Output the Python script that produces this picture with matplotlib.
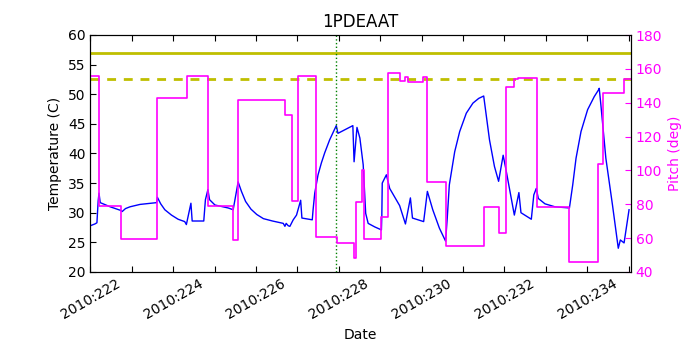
import matplotlib
matplotlib.use("Agg")
import matplotlib.pyplot as plt
from matplotlib.ticker import MultipleLocator, FuncFormatter

# temperature trace (day of year 2010, deg C)
temp_day = [222.00, 222.11, 222.16, 222.19, 222.21, 222.24, 222.48, 222.73, 222.77,
            222.85, 222.96, 223.20, 223.60, 223.62, 223.70, 223.80, 223.96, 224.12,
            224.28, 224.32, 224.43, 224.46, 224.74, 224.78, 224.84, 224.88, 225.01,
            225.33, 225.45, 225.57, 225.65, 225.75, 225.88, 226.02, 226.18, 226.40,
            226.66, 226.70, 226.73, 226.78, 226.82, 226.90, 226.98, 227.08, 227.11,
            227.36, 227.38, 227.42, 227.50, 227.58, 227.66, 227.78, 227.86, 227.94,
            227.98, 228.34, 228.37, 228.44, 228.51, 228.59, 228.65, 228.71, 228.87,
            229.03, 229.04, 229.05, 229.15, 229.23, 229.47, 229.61, 229.73, 229.78,
            230.05, 230.14, 230.27, 230.43, 230.58, 230.62, 230.67, 230.80, 230.92,
            231.08, 231.24, 231.38, 231.50, 231.64, 231.76, 231.86, 231.97, 232.04,
            232.24, 232.35, 232.40, 232.65, 232.71, 232.77, 232.82, 232.98, 233.22,
            233.57, 233.65, 233.73, 233.85, 234.01, 234.17, 234.27, 234.29, 234.33,
            234.45, 234.61, 234.75, 234.80, 234.89, 235.01]
temp_val = [27.8, 28.1, 28.3, 32.0, 33.3, 31.7, 31.0, 30.4, 30.2,
            30.7, 31.0, 31.4, 31.7, 32.6, 31.5, 30.5, 29.6, 28.9,
            28.5, 28.0, 31.6, 28.6, 28.6, 32.2, 33.9, 32.2, 31.3,
            30.8, 30.5, 35.2, 33.6, 31.9, 30.6, 29.7, 29.0, 28.6,
            28.2, 27.7, 28.2, 27.8, 27.7, 28.8, 29.6, 32.1, 29.1,
            28.8, 30.5, 33.3, 36.4, 38.4, 40.1, 42.3, 43.5, 44.7,
            43.4, 44.7, 38.6, 44.4, 42.6, 38.1, 29.9, 28.2, 27.6,
            27.1, 29.5, 35.0, 36.4, 34.1, 31.2, 28.1, 32.5, 29.1,
            28.5, 33.6, 30.5, 27.4, 25.2, 29.1, 34.7, 40.3, 43.7,
            46.8, 48.5, 49.3, 49.7, 42.3, 37.8, 35.3, 39.7, 37.2,
            29.6, 33.4, 30.0, 28.9, 33.0, 34.1, 32.4, 31.5, 31.0,
            30.8, 34.7, 39.2, 43.7, 47.4, 49.6, 50.7, 51.0, 48.2,
            39.2, 31.3, 24.0, 25.4, 24.9, 30.5]

# pitch steps (value holds from each day until the next)
pitch_day = [222.00, 222.21, 222.73, 223.61, 224.33, 224.84, 225.45, 225.57, 226.70,
             226.86, 227.01, 227.45, 227.95, 228.37, 228.42, 228.56, 228.62, 229.03,
             229.18, 229.47, 229.61, 229.67, 230.04, 230.14, 230.58, 231.50, 231.86,
             232.04, 232.24, 232.32, 232.78, 233.55, 234.27, 234.38, 234.89, 235.05]
pitch_val = [156.0, 79.0, 59.7, 142.8, 156.0, 79.0, 59.0, 141.6, 132.7,
             82.0, 156.0, 60.7, 57.0, 48.0, 81.5, 100.3, 59.5, 72.3,
             157.6, 153.0, 155.0, 152.0, 155.0, 93.4, 55.5, 78.2, 63.0,
             149.3, 154.0, 154.4, 78.4, 46.1, 103.6, 145.5, 154.0, 154.0]

planning_limit = 57.0
caution_limit = 52.5
now_day = 227.94

fig = plt.figure(figsize=(7, 3.5), dpi=100)
ax1 = fig.add_axes([0.129, 0.223, 0.772, 0.677])
ax1.plot(temp_day, temp_val, color='b', lw=1)
ax1.axhline(planning_limit, color='y', lw=2)
ax1.axhline(caution_limit, color='y', lw=2, linestyle='--', dashes=(3.2, 2.8))
ax1.axvline(now_day, color='g', lw=1, linestyle=':')
ax1.set_xlim(222.0, 235.05)
ax1.set_ylim(20, 60)
ax1.set_ylabel('Temperature (C)', fontsize=10)
ax1.set_xlabel('Date', fontsize=10)
ax1.set_title('1PDEAAT', fontsize=12)
ax1.xaxis.set_major_locator(MultipleLocator(1))
ax1.xaxis.set_major_formatter(FuncFormatter(
    lambda x, pos: '2010:%03d' % round(x) if round(x) % 2 == 0 else ''))
ax1.tick_params(axis='x', direction='in', top=True, length=4, labelsize=10,
                labelrotation=30)
ax1.tick_params(axis='y', direction='in', length=4, labelsize=10)
for lab in ax1.get_xticklabels():
    lab.set_ha('center')

ax2 = ax1.twinx()
ax2.plot(pitch_day, pitch_val, color='#ff00ff', lw=1.2, drawstyle='steps-post')
ax2.set_xlim(222.0, 235.05)
ax2.set_ylim(40, 180)
ax2.set_ylabel('Pitch (deg)', color='#ff00ff', fontsize=10)
ax2.tick_params(axis='y', direction='in', length=4, labelsize=10,
                colors='#ff00ff')
for s in ax2.spines.values():
    s.set_color('k')

fig.savefig('out.png', dpi=100)
